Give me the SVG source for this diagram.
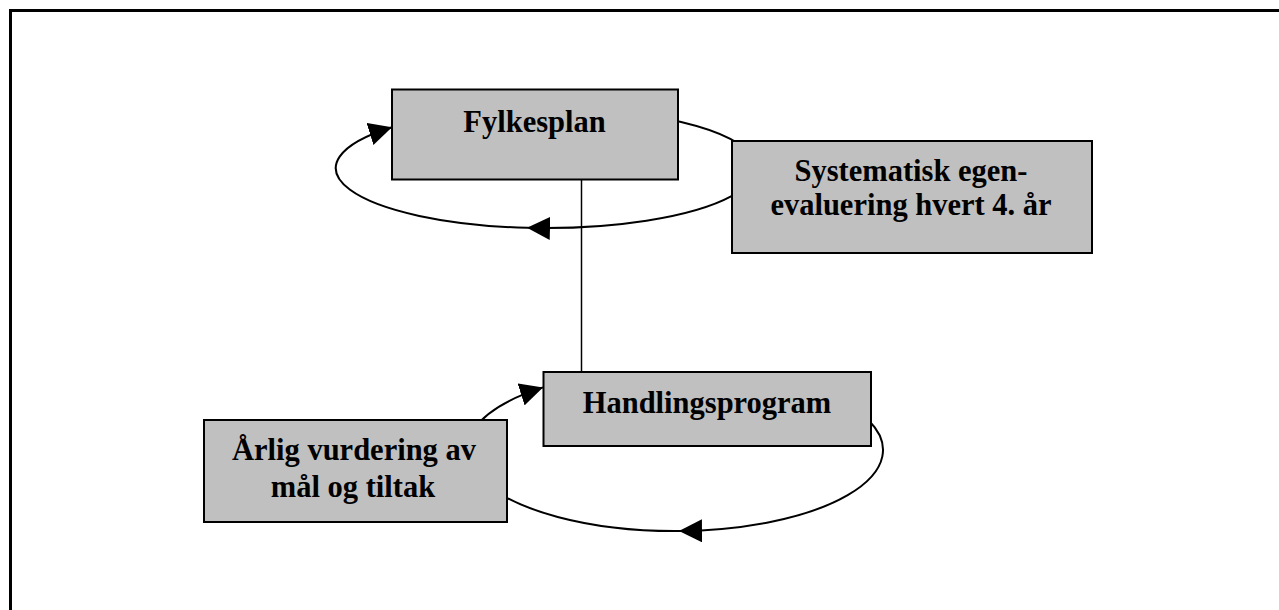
<svg xmlns="http://www.w3.org/2000/svg" width="1279" height="610" viewBox="0 0 1279 610">
  <style>
    .frame { fill: none; stroke: #000; stroke-width: 3; }
    .box { fill: #c0c0c0; stroke: #000; stroke-width: 2; }
    .label { font-family: "Liberation Serif", "Times New Roman", serif; font-weight: bold; font-size: 30.5px; fill: #000; text-anchor: middle; }
    .loop { fill: none; stroke: #000; stroke-width: 2; }
    .link { fill: none; stroke: #000; stroke-width: 1.5; }
  </style>
  <defs>
    <marker id="arrow" viewBox="0 0 23 23" refX="23" refY="11.5" markerWidth="23" markerHeight="23" markerUnits="userSpaceOnUse" orient="auto">
      <path d="M0,0 L23,11.5 L0,23 Z" fill="#000"/>
    </marker>
  </defs>
  <rect width="1279" height="610" fill="#fff"/>

  <!-- page frame (top and left edges) -->
  <path class="frame" d="M10.5,610 V10.5 H1279"/>

  <g id="connectors">
    <!-- plan line between the two levels -->
    <line class="link" x1="581.5" y1="179" x2="581.5" y2="372"/>
    <!-- four-year evaluation loop round Fylkesplan -->
    <path class="loop" d="M392,127.2 A210 60 0 0 1 732,195.9"/>
    <path class="loop" marker-end="url(#arrow)" d="M732,195.9 A210 60 0 0 1 527,227.8"/>
    <path class="loop" marker-end="url(#arrow)" d="M527,227.8 A210 60 0 0 1 392,127.2"/>
    <!-- yearly review loop round Handlingsprogram -->
    <path class="loop" marker-end="url(#arrow)" d="M869,420.8 A208 81 0 0 1 679,531"/>
    <path class="loop" marker-end="url(#arrow)" d="M679,531 A208 81 0 0 1 543,387.4"/>
  </g>

  <g id="fylkesplan">
    <rect class="box" x="392" y="89.5" width="286" height="90"/>
    <text class="label" x="534.5" y="131.5">Fylkesplan</text>
  </g>

  <g id="egenevaluering">
    <rect class="box" x="732" y="141" width="360" height="112"/>
    <text class="label" x="911" y="181">Systematisk egen-</text>
    <text class="label" x="911" y="215">evaluering hvert 4. år</text>
  </g>

  <g id="handlingsprogram">
    <rect class="box" x="543.5" y="372" width="327.5" height="74"/>
    <text class="label" x="707" y="413.3">Handlingsprogram</text>
  </g>

  <g id="aarlig-vurdering">
    <rect class="box" x="204" y="420" width="303" height="102"/>
    <text class="label" x="354" y="460">Årlig vurdering av</text>
    <text class="label" x="353" y="496.7">mål og tiltak</text>
  </g>
</svg>
